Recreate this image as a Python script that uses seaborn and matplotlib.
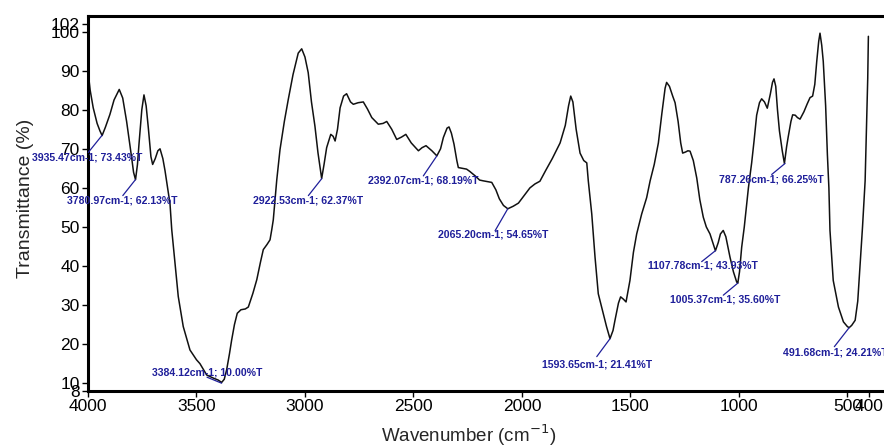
import matplotlib
matplotlib.use("Agg")
import matplotlib.pyplot as plt
import seaborn as sns
import pandas as pd

# ---- data ----
wavenumber = [4000, 3990, 3976, 3958, 3945, 3935, 3920, 3899, 3880, 3856, 3840, 3822, 3808, 3799, 3790,
              3781, 3772, 3765, 3752, 3742, 3732, 3722, 3710, 3702, 3690, 3678, 3668, 3655, 3645, 3633,
              3622, 3614, 3599, 3584, 3561, 3530, 3500, 3484, 3453, 3422, 3400, 3384, 3372, 3361, 3348,
              3338, 3325, 3312, 3295, 3275, 3261, 3240, 3222, 3205, 3192, 3175, 3161, 3153, 3146, 3130,
              3115, 3095, 3077, 3055, 3031, 3015, 3000, 2985, 2970, 2954, 2940, 2923, 2912, 2900, 2881,
              2870, 2861, 2850, 2838, 2822, 2808, 2790, 2777, 2755, 2731, 2712, 2692, 2662, 2640, 2623,
              2600, 2577, 2555, 2535, 2510, 2477, 2460, 2442, 2415, 2392, 2375, 2362, 2345, 2336, 2325,
              2313, 2300, 2293, 2275, 2255, 2240, 2216, 2195, 2178, 2139, 2120, 2104, 2085, 2065, 2040,
              2016, 1990, 1963, 1940, 1917, 1890, 1860, 1824, 1800, 1785, 1775, 1765, 1750, 1732, 1715,
              1701, 1694, 1678, 1663, 1648, 1625, 1610, 1594, 1580, 1571, 1555, 1545, 1532, 1520, 1502,
              1486, 1471, 1448, 1425, 1409, 1390, 1371, 1355, 1340, 1333, 1320, 1305, 1294, 1280, 1268,
              1259, 1245, 1235, 1225, 1210, 1194, 1180, 1164, 1150, 1133, 1120, 1108, 1095, 1085, 1072,
              1060, 1041, 1025, 1010, 1005, 997, 987, 975, 956, 941, 930, 918, 905, 895, 882,
              869, 855, 845, 838, 830, 822, 813, 800, 790, 780, 773, 760, 752, 740, 730,
              718, 700, 685, 672, 660, 650, 641, 632, 626, 618, 611, 600, 592, 585, 580,
              565, 541, 518, 500, 491.7, 480, 464, 452, 441, 430, 418, 411, 406, 403]
transmittance = [90.0, 85.0, 80.5, 76.5, 74.6, 73.4, 75.5, 78.8, 82.5, 85.2, 83.0, 77.0, 71.5, 67.8, 64.0,
                 62.1, 66.0, 71.2, 80.0, 83.8, 81.0, 75.4, 68.0, 66.0, 67.5, 69.5, 70.0, 67.5, 64.4, 60.0,
                 55.9, 49.3, 40.7, 32.2, 24.5, 18.5, 16.0, 15.0, 12.1, 11.3, 10.8, 10.2, 11.0, 13.4, 17.5,
                 21.0, 25.0, 27.9, 28.8, 29.0, 29.5, 33.0, 36.5, 41.0, 44.2, 45.5, 46.7, 49.3, 51.8, 62.0,
                 69.8, 77.0, 82.6, 89.0, 94.5, 95.6, 93.5, 89.5, 82.0, 75.8, 69.0, 62.4, 66.0, 70.3, 73.7,
                 73.2, 72.0, 75.0, 80.5, 83.5, 84.1, 82.0, 81.4, 81.8, 82.0, 80.2, 78.0, 76.3, 76.5, 77.0,
                 75.0, 72.4, 73.0, 73.7, 71.5, 69.5, 70.3, 70.8, 69.5, 68.2, 70.0, 72.9, 75.3, 75.6, 74.0,
                 71.2, 67.0, 65.2, 65.0, 64.8, 64.2, 63.1, 62.0, 61.8, 61.4, 59.5, 57.2, 55.5, 54.65, 55.3,
                 56.1, 58.0, 60.0, 61.0, 61.7, 64.5, 67.5, 71.5, 76.0, 81.0, 83.5, 82.0, 75.0, 68.9, 67.0,
                 66.4, 61.8, 53.3, 42.3, 32.9, 27.8, 24.5, 21.4, 23.5, 26.1, 30.5, 32.1, 31.5, 30.8, 36.3,
                 43.5, 48.2, 53.3, 57.5, 61.8, 66.0, 71.5, 79.0, 85.5, 87.0, 86.0, 83.5, 81.8, 77.0, 71.5,
                 68.9, 69.2, 69.5, 69.4, 67.0, 62.5, 57.0, 52.5, 50.0, 48.2, 46.0, 43.9, 46.0, 48.2, 49.1,
                 47.5, 42.3, 38.5, 35.9, 35.6, 38.5, 44.8, 50.0, 60.0, 66.4, 72.0, 78.6, 81.8, 82.8, 82.0,
                 80.4, 84.0, 87.0, 87.9, 86.0, 80.0, 74.6, 69.5, 66.25, 70.5, 72.9, 77.0, 78.7, 78.6, 78.0,
                 77.6, 79.5, 81.5, 83.1, 83.5, 86.5, 92.4, 97.5, 99.6, 96.5, 92.4, 81.0, 68.6, 60.0, 49.1,
                 36.3, 29.5, 25.7, 24.5, 24.21, 24.8, 26.1, 31.0, 40.6, 50.0, 61.8, 77.0, 88.0, 98.8]

peak_wn = [3935.47, 3780.97, 3384.12, 2922.53, 2392.07, 2065.20, 1593.65, 1107.78, 1005.37, 787.26, 491.68]
peak_t = [73.43, 62.13, 10.00, 62.37, 68.19, 54.65, 21.41, 43.93, 35.60, 66.25, 24.21]
peak_labels = [f"{w:.2f}cm-1; {t:.2f}%T" for w, t in zip(peak_wn, peak_t)]

x_ticks = [4000, 3500, 3000, 2500, 2000, 1500, 1000, 500, 400]
y_ticks = [8, 10, 20, 30, 40, 50, 60, 70, 80, 90, 100, 102]

# leader-line ends and text anchors (pixel offsets from each peak)
line_off = [(-13.7, -17), (-12.7, -16), (-14.6, 6), (-13.4, -17), (-13.5, -20), (-12.7, -22),
            (-13.3, -18), (-13.8, -11), (-14.4, -12), (-13.3, -11), (-14.8, -19)]
text_off = [(-70, -22.5), (-68.4, -21), (-70, 10.5), (-68.4, -22), (-68.5, -25), (-69.4, -26),
            (-68.3, -26), (-67.2, -15), (-67.7, -16), (-65.7, -16.3), (-66.4, -25.2)]

sns.set_theme(style="white")
plt.rcParams["font.family"] = ["Liberation Sans", "DejaVu Sans"]

fig = plt.figure(figsize=(8.84, 4.48), dpi=100)
ax = fig.add_axes([88 / 884, 1 - 391 / 448, 796 / 884, 375 / 448])

df = pd.DataFrame({"Wavenumber": wavenumber, "T": transmittance})
sns.lineplot(data=df, x="Wavenumber", y="T", sort=False, estimator=None,
             color="#111111", linewidth=1.1, ax=ax)

navy = "#1f1f9a"
for w, t, lab, lo, to in zip(peak_wn, peak_t, peak_labels, line_off, text_off):
    ax.annotate("", xy=(w, t), xytext=lo, textcoords="offset pixels",
                arrowprops=dict(arrowstyle="-", color=navy, lw=0.9, shrinkA=0, shrinkB=0))
    ax.annotate(lab, xy=(w, t), xytext=to, textcoords="offset pixels",
                ha="left", va="center", fontsize=7.6, fontweight="bold", color=navy,
                annotation_clip=False)

ax.set_xlim(4000, 331)
ax.set_ylim(8, 104)
ax.set_xticks(x_ticks)
ax.set_xticklabels([str(v) for v in x_ticks])
ax.set_yticks(y_ticks)
ax.set_yticklabels([str(v) for v in y_ticks])
ax.tick_params(axis="both", which="major", direction="out", length=4, width=1,
               labelsize=12.5, colors="black", pad=2, left=True, bottom=True)

for side in ["left", "bottom", "top"]:
    ax.spines[side].set_visible(True)
    ax.spines[side].set_color("black")
    ax.spines[side].set_linewidth(2.2)
ax.spines["right"].set_visible(False)

ax.set_xlabel("Wavenumber (cm$^{-1}$)", fontsize=13.5)
ax.set_ylabel("Transmittance (%)", fontsize=14)
ax.xaxis.set_label_coords(381 / 796, -0.085)
ax.yaxis.set_label_coords(-0.068, 0.513)

fig.savefig("out.png", dpi=100)
